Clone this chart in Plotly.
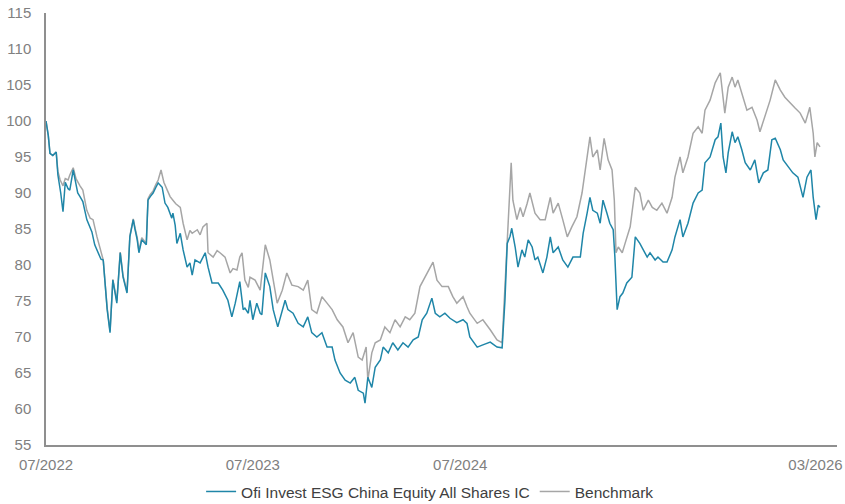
import pandas as pd
import plotly.graph_objects as go

START = "2022-07-01"

fund_name = "Ofi Invest ESG China Equity All Shares IC"
bench_name = "Benchmark"

# days since START for each observation, and index values (base 100)
fund_day = [0, 4, 7, 12, 18, 21, 26, 30, 34, 39,
            42, 48, 53, 56, 60, 65, 72, 78, 81, 86,
            92, 97, 101, 104, 108, 113, 118, 125, 131, 136,
            143, 148, 154, 157, 161, 164, 169, 177, 180, 184,
            189, 194, 198, 205, 210, 215, 222, 224, 228, 231,
            237, 242, 249, 254, 258, 263, 272, 281, 286, 293,
            304, 312, 321, 328, 334, 342, 348, 351, 357, 360,
            365, 372, 378, 381, 387, 395, 401, 409, 417, 422,
            427, 436, 445, 454, 462, 469, 478, 487, 496, 505,
            510, 519, 528, 537, 545, 551, 560, 563, 568, 575,
            581, 590, 595, 604, 612, 621, 630, 639, 648, 657,
            664, 672, 681, 687, 695, 704, 713, 725, 736, 743,
            748, 761, 771, 784, 796, 805, 810, 814, 819, 822,
            828, 833, 840, 845, 851, 858, 863, 868, 877, 884,
            890, 895, 904, 912, 921, 930, 943, 948, 955, 960,
            965, 973, 978, 983, 990, 995, 1001, 1004, 1008, 1013,
            1018, 1025, 1034, 1036, 1040, 1048, 1054, 1061, 1066, 1075,
            1080, 1089, 1096, 1105, 1110, 1119, 1124, 1133, 1142, 1151,
            1158, 1163, 1172, 1181, 1186, 1191, 1195, 1200, 1204, 1211,
            1216, 1221, 1228, 1234, 1243, 1251, 1258, 1266, 1274, 1281,
            1287, 1296, 1301, 1310, 1318, 1327, 1336, 1343, 1350, 1354,
            1359, 1363, 1366]
fund_val = [100, 98, 95.5, 95.2, 95.7, 92.5, 90, 87.4, 91.5, 90.6,
            90.4, 93.2, 91.2, 90, 89.5, 88.8, 86.3, 85.2, 84.6, 82.8,
            81.7, 80.8, 80.7, 77.5, 73.8, 70.6, 77.9, 74.7, 81.7, 78.3,
            76.1, 83.9, 86.3, 85, 83.5, 81.7, 83.5, 82.8, 89, 89.5,
            90, 90.8, 91.4, 90.8, 88.6, 88, 86.5, 87.2, 85.5, 83,
            84.4, 82.1, 79.7, 80.3, 78.6, 80.7, 80.3, 81.7, 79.7, 77.5,
            77.5, 76.5, 75.1, 72.8, 74.7, 77.7, 73.8, 74, 73.3, 75.1,
            72.4, 74.7, 73.3, 73.1, 78.9, 77, 73.8, 71.4, 73.8, 75.1,
            73.8, 73.3, 71.9, 71.4, 72.8, 70.6, 70, 70.6, 68.6, 68.6,
            66.8, 65, 64, 63.6, 64.4, 62.6, 62.2, 60.8, 64.4, 63,
            65.8, 66.8, 68.6, 67.8, 69.2, 68.2, 69.2, 68.6, 69.6, 70,
            72.4, 73.3, 75.4, 73.3, 72.8, 73.3, 72.6, 72, 72.4, 71.9,
            70, 68.6, 68.9, 69.3, 68.6, 68.5, 75.1, 83, 84, 85.1,
            82.5, 79.7, 82.1, 81.1, 83.5, 82.5, 80.7, 81.1, 78.9, 81.1,
            83.9, 81.7, 82.5, 80.7, 79.7, 81.1, 81.1, 84.4, 87.2, 89.4,
            87.6, 87.2, 85.8, 89, 87.2, 85.8, 84.9, 81.1, 73.8, 75.6,
            76.1, 77.5, 78.3, 80.7, 83.9, 83, 82.1, 81.1, 81.7, 80.7,
            81.1, 80.4, 80.4, 82.1, 83.9, 86.3, 83.9, 85.8, 88.6, 90,
            90.4, 94.2, 95, 97.4, 97.8, 99.7, 95, 92.8, 95.6, 98.5,
            97, 97.8, 96, 94.2, 93.2, 94.6, 91.4, 92.8, 93.2, 97.4,
            97.6, 96, 94.6, 93.6, 92.8, 92.2, 89.4, 92.2, 93.2, 89.4,
            86.3, 88.3, 88]

bench_day = [0, 4, 7, 12, 18, 21, 25, 30, 34, 39,
             42, 48, 53, 56, 60, 65, 72, 78, 83, 90,
             95, 101, 104, 108, 113, 118, 125, 131, 136, 143,
             148, 154, 157, 161, 164, 169, 177, 180, 184, 189,
             194, 198, 203, 208, 214, 219, 224, 229, 237, 242,
             249, 254, 258, 267, 272, 277, 284, 286, 295, 302,
             307, 316, 325, 330, 337, 342, 346, 351, 357, 360,
             369, 378, 387, 395, 408, 417, 425, 434, 445, 454,
             462, 469, 478, 487, 496, 505, 514, 524, 533, 542,
             551, 558, 565, 568, 575, 581, 590, 598, 607, 616,
             625, 634, 642, 651, 660, 669, 678, 683, 690, 699,
             710, 718, 725, 736, 743, 748, 761, 771, 784, 796,
             805, 810, 814, 821, 824, 831, 837, 842, 849, 854,
             863, 872, 881, 890, 895, 904, 912, 920, 928, 937,
             946, 955, 960, 965, 973, 978, 985, 992, 999, 1003,
             1006, 1010, 1017, 1022, 1031, 1040, 1048, 1054, 1063, 1070,
             1078, 1087, 1096, 1105, 1110, 1119, 1124, 1133, 1142, 1151,
             1158, 1163, 1172, 1181, 1190, 1198, 1204, 1211, 1216, 1221,
             1228, 1237, 1246, 1255, 1260, 1269, 1278, 1287, 1296, 1304,
             1313, 1322, 1331, 1340, 1348, 1354, 1357, 1361, 1366]
bench_val = [100, 98, 95.5, 95.2, 95.7, 93, 91.8, 91, 92, 91.8,
             92.5, 93.5, 92, 91.5, 91, 90.4, 87.6, 86.5, 86.3, 83.9,
             82.5, 80.7, 77.8, 74, 70.8, 78, 75, 81.8, 78.5, 76.3,
             84, 86.4, 85.2, 83.8, 82, 83.8, 83, 89.2, 89.8, 90.3,
             91.2, 91.8, 93.2, 91.5, 90.4, 89.5, 89, 88.5, 88, 85.8,
             83.5, 84.8, 84.4, 84.9, 84.2, 85.3, 85.8, 81.7, 81.1, 82,
             81.7, 81.1, 78.9, 79.5, 79.3, 81.1, 81.7, 77.9, 76.9, 78.3,
             77.9, 76.5, 82.8, 80.7, 74.7, 76.5, 78.9, 77.2, 77, 76.5,
             77.9, 73.8, 73.3, 75.6, 74.7, 73.8, 72.4, 71.4, 69.2, 70.6,
             67.2, 66.8, 68.6, 64, 67.8, 69.2, 69.6, 71.4, 70.6, 72.4,
             71.4, 72.8, 72.4, 73.3, 77, 78.3, 79.7, 80.4, 77.9, 77,
             77, 75.6, 74.7, 75.6, 74.2, 73.3, 71.9, 72.4, 71, 69.6,
             69.2, 77, 84.4, 94.2, 89, 86.3, 88, 86.7, 88.5, 90,
             87.2, 86.3, 86.3, 89.4, 87.2, 88.6, 86.3, 83.9, 85.3, 86.7,
             90, 94.6, 97.8, 95, 96, 93.2, 97.6, 94.6, 93.2, 89,
             81.7, 82.5, 81.7, 83, 85.3, 90.8, 90, 87.6, 89, 88,
             87.6, 88.6, 87.2, 89.4, 92.2, 95, 92.8, 95, 98.3, 99.2,
             98.3, 101.5, 102.9, 105.3, 106.7, 101.1, 104.7, 106.1, 104.7, 105.7,
             103.9, 101.5, 101.9, 100.1, 98.5, 100.6, 102.9, 105.7, 104.3, 103.3,
             102.5, 101.8, 101.1, 99.7, 101.9, 98.3, 95, 97, 96.4]

tick_dates = ["2022-07-01", "2023-07-01", "2024-07-01", "2026-03-20"]
tick_text = ["07/2022", "07/2023", "07/2024", "03/2026"]
x_range = ["2022-07-01", "2026-04-27"]
y_ticks = [55, 60, 65, 70, 75, 80, 85, 90, 95, 100, 105, 110, 115]

start = pd.Timestamp(START)
fund_dates = start + pd.to_timedelta(fund_day, unit="D")
bench_dates = start + pd.to_timedelta(bench_day, unit="D")

FUND_COLOR = "#1f86a8"
BENCH_COLOR = "#a6a6a6"
FONT = "Liberation Sans, Arial, sans-serif"

fig = go.Figure()
fig.add_trace(go.Scatter(x=bench_dates, y=bench_val, mode="lines", name=bench_name,
                         line=dict(color=BENCH_COLOR, width=1.5), legendrank=2))
fig.add_trace(go.Scatter(x=fund_dates, y=fund_val, mode="lines", name=fund_name,
                         line=dict(color=FUND_COLOR, width=1.5), legendrank=1))

fig.update_layout(
    width=845, height=504, autosize=False,
    margin=dict(l=46, r=8, t=13, b=59),
    paper_bgcolor="white", plot_bgcolor="white",
    font=dict(family=FONT, size=15, color="#808080"),
    showlegend=True,
    legend=dict(orientation="h", xref="container", yref="container",
                x=0.509, xanchor="center", y=0.024, yanchor="middle",
                font=dict(size=15.5, color="#404040"), itemwidth=30,
                bgcolor="rgba(0,0,0,0)", traceorder="normal"),
    xaxis=dict(type="date", range=x_range, tickmode="array", tickvals=tick_dates,
               ticktext=tick_text, showgrid=False, zeroline=False,
               showline=True, linecolor="#8f8f8f", linewidth=1.5,
               ticks="outside", ticklen=5, tickcolor="rgba(0,0,0,0)",
               ticklabeloverflow="allow", automargin=False,
               tickfont=dict(size=15, color="#808080")),
    yaxis=dict(range=[55, 115], tickmode="array", tickvals=y_ticks,
               showgrid=False, zeroline=False, automargin=False,
               showline=True, linecolor="#8f8f8f", linewidth=1.5,
               ticks="outside", ticklen=10, tickcolor="rgba(0,0,0,0)",
               tickfont=dict(size=15, color="#808080")),
)

fig.write_html("out.html")
